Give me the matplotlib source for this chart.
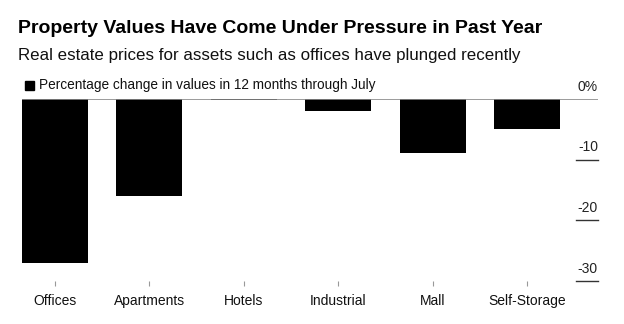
import matplotlib
matplotlib.use("Agg")
import matplotlib.pyplot as plt
import matplotlib.transforms as mtransforms
from matplotlib.patches import Rectangle

categories = ["Offices", "Apartments", "Hotels", "Industrial", "Mall", "Self-Storage"]
values = [-27.0, -16.0, -0.1, -1.9, -8.9, -4.9]
ytick_values = [0, -10, -20, -30]
ytick_labels = ["0%", "-10", "-20", "-30"]

title = "Property Values Have Come Under Pressure in Past Year"
subtitle = "Real estate prices for assets such as offices have plunged recently"
legend_label = "Percentage change in values in 12 months through July"

plt.rcParams["font.family"] = ["Liberation Sans", "DejaVu Sans"]

W, H = 624, 324
fig = plt.figure(figsize=(W / 100, H / 100), dpi=100)
ax = fig.add_axes([22 / W, (H - 281) / H, (598 - 22) / W, (281 - 99) / H])

x = list(range(len(categories)))
ax.bar(x, values, width=0.7, color="black", zorder=2)
ax.set_xlim(-0.345, 5.75)
ax.set_ylim(-30, 0)

ax.axhline(0, color="#8a8a8a", lw=1.2, zorder=3)

# right-side short grid marks with labels above
trans = mtransforms.blended_transform_factory(ax.transAxes, ax.transData)
for v, lab in zip(ytick_values, ytick_labels):
    if v != 0:
        ax.plot([0.962, 1.0], [v, v], color="#333333", lw=1.0, transform=trans, clip_on=False)
    ax.text(1.0, v + 2.05, lab, transform=trans, ha="right", va="center",
            fontsize=10, color="#222222", clip_on=False)

for s in ax.spines.values():
    s.set_visible(False)
ax.set_yticks([])
ax.set_xticks(x)
ax.set_xticklabels(categories, fontsize=10, color="#111111")
ax.tick_params(axis="x", length=3.5, width=0.8, color="#999999", pad=6)

fig.text(18 / W, 1 - 33 / H, title, fontsize=14, fontweight="bold", color="black",
         ha="left", va="baseline")
fig.text(18 / W, 1 - 60 / H, subtitle, fontsize=12.2, color="#111111",
         ha="left", va="baseline")
fig.patches.append(Rectangle((25 / W, 1 - 90 / H), 9 / W, 9 / H, color="black",
                             transform=fig.transFigure, figure=fig))
fig.text(39 / W, 1 - 89.5 / H, legend_label, fontsize=9.85, color="#111111",
         ha="left", va="baseline")

fig.savefig("out.png", dpi=100)
